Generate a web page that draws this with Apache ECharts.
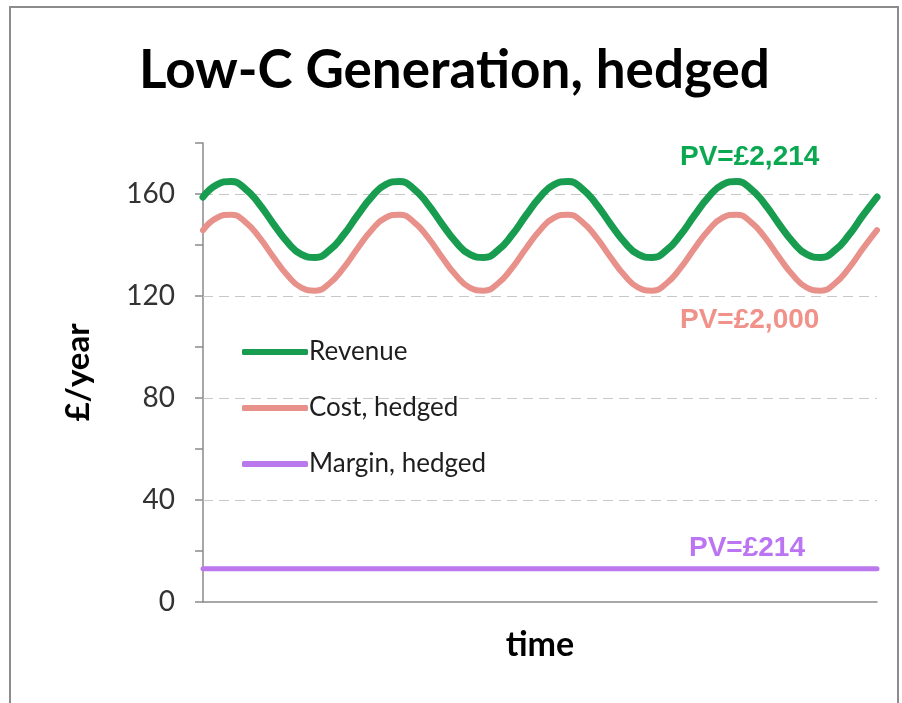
<!DOCTYPE html>
<html>
<head>
<meta charset="utf-8">
<title>Low-C Generation, hedged</title>
<script src="https://cdn.jsdelivr.net/npm/echarts@6/dist/echarts.min.js"></script>
<style>
  html, body { margin: 0; padding: 0; background: #fff; }
  #chart { width: 902px; height: 703px; }
</style>
</head>
<body>
<div id="chart"></div>
<script>
// time steps (arbitrary units, no labels on the axis)
var periods = [0, 1, 2, 3, 4, 5, 6, 7, 8, 9, 10, 11, 12, 13, 14, 15, 16, 17, 18, 19, 20, 21, 22, 23, 24,
  25, 26, 27, 28, 29, 30, 31, 32, 33, 34, 35, 36, 37, 38, 39, 40, 41, 42, 43, 44, 45, 46, 47, 48]

// £/year
var revenue = [
  158.8, 163.7, 164.9, 162.1, 156.1, 148.4, 141.2, 136.3, 135.1, 137.9, 143.9, 151.6,
  158.8, 163.7, 164.9, 162.1, 156.1, 148.4, 141.2, 136.3, 135.1, 137.9, 143.9, 151.6,
  158.8, 163.7, 164.9, 162.1, 156.1, 148.4, 141.2, 136.3, 135.1, 137.9, 143.9, 151.6,
  158.8, 163.7, 164.9, 162.1, 156.1, 148.4, 141.2, 136.3, 135.1, 137.9, 143.9, 151.6,
  158.8
]
var costHedged = [
  145.8, 150.7, 151.9, 149.1, 143.1, 135.4, 128.2, 123.3, 122.1, 124.9, 130.9, 138.6,
  145.8, 150.7, 151.9, 149.1, 143.1, 135.4, 128.2, 123.3, 122.1, 124.9, 130.9, 138.6,
  145.8, 150.7, 151.9, 149.1, 143.1, 135.4, 128.2, 123.3, 122.1, 124.9, 130.9, 138.6,
  145.8, 150.7, 151.9, 149.1, 143.1, 135.4, 128.2, 123.3, 122.1, 124.9, 130.9, 138.6,
  145.8
]
var marginHedged = [
  13, 13, 13, 13, 13, 13, 13, 13, 13, 13, 13, 13,
  13, 13, 13, 13, 13, 13, 13, 13, 13, 13, 13, 13,
  13, 13, 13, 13, 13, 13, 13, 13, 13, 13, 13, 13,
  13, 13, 13, 13, 13, 13, 13, 13, 13, 13, 13, 13,
  13
]

// labelled ticks and dashed gridlines
var yLabels = [0, 40, 80, 120, 160]
var gridValues = [40, 80, 120, 160]
var pvLabels = ['PV=£2,214', 'PV=£2,000', 'PV=£214']

var green = '#189c4f'
var salmon = '#e8918a'
var purple = '#bb78ec'

var chart = echarts.init(document.getElementById('chart'))
chart.setOption({
  animation: false,
  backgroundColor: '#fff',
  title: {
    // zero width non-joiner keeps "ti" from turning into a ligature
    text: 'Low-C Genera\u200Ction, hedged',
    left: 134,
    top: 39,
    textStyle: {
      fontFamily: 'Lato',
      fontWeight: 'bold',
      fontSize: 53,
      color: '#000'
    }
  },
  legend: {
    orient: 'vertical',
    left: 237,
    top: 334,
    itemWidth: 66,
    itemHeight: 6,
    itemGap: 30,
    icon: 'roundRect',
    textStyle: {
      fontFamily: 'Lato',
      fontSize: 26,
      color: '#1e1e1e',
      padding: [0, 0, 0, -4]
    },
    data: ['Revenue', 'Cost, hedged', 'Margin, hedged']
  },
  grid: {
    left: 203,
    right: 25,
    top: 143,
    bottom: 101
  },
  xAxis: {
    type: 'category',
    data: periods,
    boundaryGap: false,
    name: 'time',
    nameLocation: 'middle',
    nameGap: 26,
    nameTextStyle: {
      fontFamily: 'Lato',
      fontWeight: 'bold',
      fontSize: 34,
      color: '#000'
    },
    axisLine: { lineStyle: { color: '#8a8a8a', width: 1.5 } },
    axisTick: { show: false },
    axisLabel: { show: false },
    splitLine: { show: false }
  },
  yAxis: {
    type: 'value',
    min: 0,
    max: 180,
    interval: 20,
    name: '£/year',
    nameLocation: 'middle',
    nameGap: 108,
    nameRotate: 90,
    nameTextStyle: {
      fontFamily: 'Lato',
      fontWeight: 'bold',
      fontSize: 33,
      color: '#000'
    },
    axisLine: { show: true, lineStyle: { color: '#8a8a8a', width: 1.5 } },
    axisTick: { show: true, length: 8, lineStyle: { color: '#8a8a8a', width: 1.5 } },
    axisLabel: {
      margin: 28,
      fontFamily: 'Lato',
      fontSize: 28,
      color: '#333',
      formatter: function (v) {
        return yLabels.indexOf(v) >= 0 ? String(v) : ''
      }
    },
    splitLine: { show: false }
  },
  graphic: [
    {
      type: 'rect',
      z: -1,
      shape: { x: 10, y: 7, width: 888, height: 720 },
      style: { fill: 'none', stroke: '#8c8c8c', lineWidth: 2 }
    },
    {
      type: 'text',
      left: 680,
      top: 143,
      style: { text: pvLabels[0], fill: '#0aa850', font: 'bold 28px "Liberation Sans", Arial' }
    },
    {
      type: 'text',
      left: 680,
      top: 306,
      style: { text: pvLabels[1], fill: '#f0918a', font: 'bold 28px "Liberation Sans", Arial' }
    },
    {
      type: 'text',
      left: 689,
      top: 534,
      style: { text: pvLabels[2], fill: '#bb74f2', font: 'bold 28px "Liberation Sans", Arial' }
    }
  ],
  series: [
    {
      name: 'Revenue',
      type: 'line',
      data: revenue,
      smooth: true,
      symbol: 'none',
      z: 3,
      itemStyle: { color: green },
      lineStyle: { color: green, width: 7, cap: 'round' },
      markLine: {
        silent: true,
        symbol: 'none',
        z: 1,
        label: { show: false },
        lineStyle: { color: '#c8c8c8', type: [10, 6], width: 1.2 },
        data: gridValues.map(function (v) { return { yAxis: v } })
      }
    },
    {
      name: 'Cost, hedged',
      type: 'line',
      data: costHedged,
      smooth: true,
      symbol: 'none',
      z: 3,
      itemStyle: { color: salmon },
      lineStyle: { color: salmon, width: 6, cap: 'round' }
    },
    {
      name: 'Margin, hedged',
      type: 'line',
      data: marginHedged,
      symbol: 'none',
      z: 3,
      itemStyle: { color: purple },
      lineStyle: { color: purple, width: 5, cap: 'round' }
    }
  ]
})
</script>
</body>
</html>
